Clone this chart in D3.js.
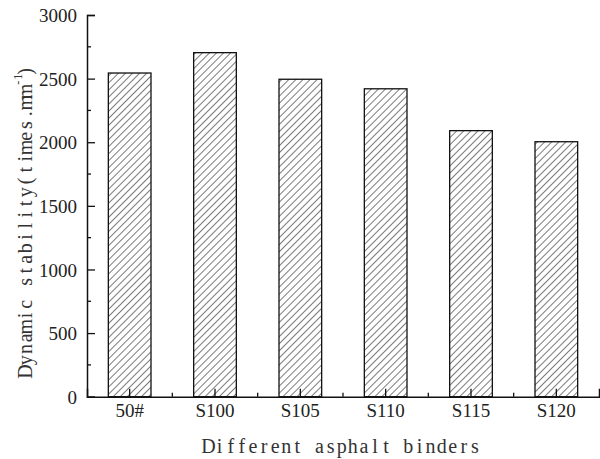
<!DOCTYPE html>
<html>
<head>
<meta charset="utf-8">
<script src="https://cdn.jsdelivr.net/npm/d3@7"></script>
<style>
  html, body { margin: 0; padding: 0; background: #fff; }
  svg { display: block; }
  .num, .title { font-family: "Liberation Serif", "Times New Roman", "DejaVu Serif", serif; }
</style>
</head>
<body>
<svg id="chart" width="600" height="459"></svg>
<script>
// Dynamic stability of mixtures with different asphalt binders
const categories = ["50#", "S100", "S105", "S110", "S115", "S120"];
const stability = [2544, 2704, 2495, 2420, 2091, 2004];
const yTicks = [0, 500, 1000, 1500, 2000, 2500, 3000];
const yMinorTicks = [250, 750, 1250, 1750, 2250, 2750];
const xTitle = "Different asphalt binders";
const yTitleMain = "Dynamic stability(times.mm";
const yTitleSup = "-1";
const yTitleEnd = ")";

const svg = d3.select("#chart");
const plot = { left: 87, right: 599, top: 15, bottom: 396.7 };

const x = d3.scaleBand()
  .domain(categories)
  .range([plot.left, plot.right])
  .paddingInner(0.5)
  .paddingOuter(0.25);

const y = d3.scaleLinear().domain([0, 3000]).range([plot.bottom, plot.top]);

// diagonal hatch fill for the bars
const defs = svg.append("defs");
defs.append("pattern")
  .attr("id", "hatch")
  .attr("patternUnits", "userSpaceOnUse")
  .attr("width", 5)
  .attr("height", 5)
  .attr("patternTransform", "rotate(45)")
  .append("line")
  .attr("x1", 0).attr("y1", 0)
  .attr("x2", 0).attr("y2", 5)
  .attr("stroke", "#333")
  .attr("stroke-width", 1.3);

// bars
svg.append("g")
  .selectAll("rect")
  .data(categories)
  .join("rect")
  .attr("x", d => x(d))
  .attr("y", (d, i) => y(stability[i]))
  .attr("width", x.bandwidth())
  .attr("height", (d, i) => y(0) - y(stability[i]))
  .attr("fill", "url(#hatch)")
  .attr("stroke", "#111")
  .attr("stroke-width", 1.3);

// y axis with inward ticks
const yAxis = svg.append("g")
  .attr("transform", `translate(${plot.left},0)`)
  .call(d3.axisLeft(y).tickValues(yTicks).tickSize(-8).tickPadding(10).tickFormat(d3.format("d")));
yAxis.append("g").selectAll("line")
  .data(yMinorTicks)
  .join("line")
  .attr("x1", 0).attr("x2", 4)
  .attr("y1", d => y(d)).attr("y2", d => y(d))
  .attr("stroke", "#111").attr("stroke-width", 1.3);

// x axis with inward ticks at bar centres and minor ticks between bars
const xAxis = svg.append("g")
  .attr("transform", `translate(0,${plot.bottom})`)
  .call(d3.axisBottom(x).tickSize(-8).tickPadding(7));
const boundaries = categories.slice(1).map(c => x(c) - x.step() * x.paddingInner() / 2);
xAxis.append("g").selectAll("line")
  .data(boundaries)
  .join("line")
  .attr("x1", d => d).attr("x2", d => d)
  .attr("y1", 0).attr("y2", -4)
  .attr("stroke", "#111").attr("stroke-width", 1.3);

[yAxis, xAxis].forEach(g => {
  g.attr("font-family", null).attr("font-size", null);
  g.select(".domain").attr("stroke", "#111").attr("stroke-width", 1.5);
  g.selectAll(".tick line").attr("stroke", "#111").attr("stroke-width", 1.3);
  g.selectAll(".tick text")
    .attr("class", "num")
    .style("font-size", "19px")
    .attr("fill", "#222");
});
yAxis.selectAll(".tick text").attr("dy", "0.35em");

// axis titles: serif glyphs set on a fixed-width grid, one cell per character
const cell = 11.1;
const cellCentres = (str, start, step) => Array.from(str, (c, i) => (start + (i + 0.5) * step).toFixed(2)).join(" ");

svg.append("text")
  .attr("class", "title")
  .attr("x", cellCentres(xTitle, 203, cell))
  .attr("y", 453)
  .attr("text-anchor", "middle")
  .style("font-size", "20px")
  .attr("fill", "#333")
  .text(xTitle);

// rotated: along-text coordinate is minus the screen y
const yTitle = svg.append("text")
  .attr("class", "title")
  .attr("transform", "translate(32,0) rotate(-90)")
  .attr("text-anchor", "middle")
  .style("font-size", "20px")
  .attr("fill", "#333");
const mainStart = -377;
yTitle.append("tspan")
  .attr("x", cellCentres(yTitleMain, mainStart, 11.2))
  .attr("y", 0)
  .text(yTitleMain);
const supStart = mainStart + yTitleMain.length * 11.2;
yTitle.append("tspan")
  .attr("x", cellCentres(yTitleSup, supStart, 6))
  .attr("y", -10)
  .style("font-size", "12px")
  .text(yTitleSup);
yTitle.append("tspan")
  .attr("x", cellCentres(yTitleEnd, supStart + 10, 9))
  .attr("y", 0)
  .text(yTitleEnd);
</script>
</body>
</html>
